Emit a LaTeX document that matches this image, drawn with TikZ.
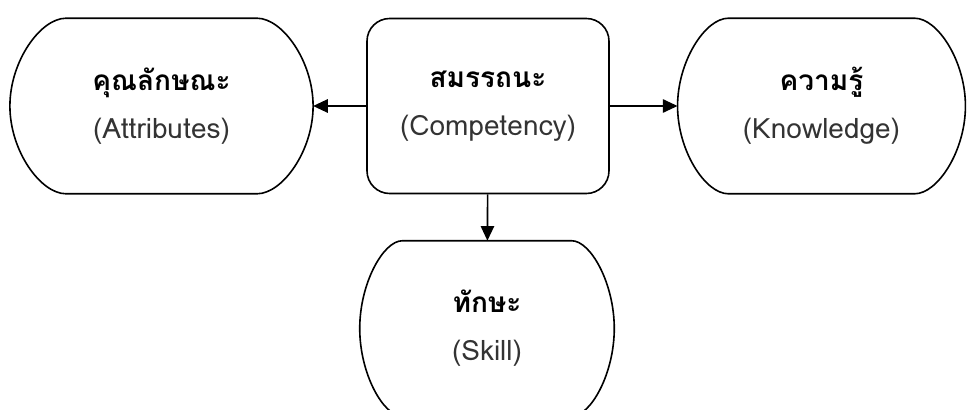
\documentclass[tikz,border=0pt]{standalone}
\usepackage{fontspec}
\usetikzlibrary{arrows.meta}
\newfontfamily\thaifont[Script=Thai]{Loma}
% outline with arced sides, #2 = inset of the flat top and bottom
\newcommand{\bulgebox}[2]{%
  \draw[boxline] ([xshift=#2]#1.north west) -- ([xshift=-#2]#1.north east)
    .. controls +(0.6*#2,0) and +(0,45) .. (#1.east)
    .. controls +(0,-45) and +(0.6*#2,0) .. ([xshift=-#2]#1.south east)
    -- ([xshift=#2]#1.south west)
    .. controls +(-0.6*#2,0) and +(0,-45) .. (#1.west)
    .. controls +(0,45) and +(-0.6*#2,0) .. cycle;}
\begin{document}
\begin{tikzpicture}[x=0.75pt, y=0.75pt,
  boxline/.style={line width=1.2pt},
  box/.style={minimum height=131.25pt, align=center, inner sep=0pt,
    font=\thaifont\fontsize{21pt}{36pt}\selectfont},
  arrow/.style={line width=1.2pt, -{Triangle[length=11pt,width=10pt]}}]
  \useasboundingbox (0,0) rectangle (968,-410);
  % centre box
  \node[box, draw, line width=1.2pt, rounded corners=17pt, minimum width=181.5pt]
    (competency) at (488,-106) {\textbf{สมรรถนะ}\\\color{black!80}(Competency)};
  % side boxes
  \node[box, minimum width=227pt] (attributes) at (161.5,-106)
    {\textbf{คุณลักษณะ}\\\color{black!80}(Attributes)};
  \node[box, minimum width=215.5pt] (knowledge) at (821.5,-106)
    {\textbf{ความรู้}\\\color{black!80}(Knowledge)};
  \node[box, minimum width=190.5pt] (skill) at (487,-328.5)
    {\textbf{ทักษะ}\\\color{black!80}(Skill)};
  \bulgebox{attributes}{42}
  \bulgebox{knowledge}{38}
  \bulgebox{skill}{32}
  % arrows
  \draw[arrow] (competency) -- (attributes);
  \draw[arrow] (competency) -- (knowledge);
  \draw[arrow] (competency) -- (skill);
\end{tikzpicture}
\end{document}
